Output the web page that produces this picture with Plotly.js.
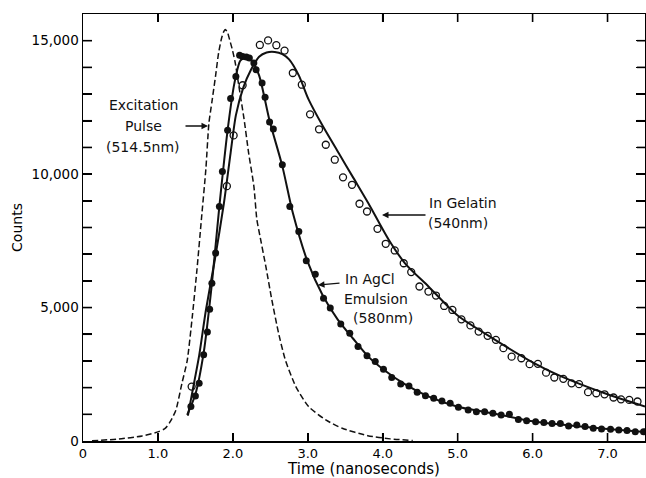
<!DOCTYPE html>
<html>
<head>
<meta charset="utf-8">
<script src="https://cdn.plot.ly/plotly-3.0.1.min.js"></script>
<style>html,body{margin:0;padding:0;background:#fff;}#chart{width:646px;height:478px;}</style>
</head>
<body>
<div id="chart"></div>
<script>
// Excitation pulse (514.5 nm), dashed curve
const pulseTime = [0.12, 0.48, 0.79, 1.01, 1.10, 1.17, 1.24, 1.32, 1.39, 1.46, 1.52, 1.58, 1.64, 1.68, 1.72, 1.77, 1.81, 1.85, 1.88, 1.90, 1.93, 1.96, 1.99, 2.03, 2.08, 2.15, 2.21, 2.28, 2.32, 2.36, 2.44, 2.52, 2.61, 2.70, 2.84, 3.01, 3.24, 3.46, 3.80, 4.10, 4.40];
const pulseCounts = [10, 75, 190, 350, 480, 750, 1160, 2160, 3000, 4700, 6400, 8300, 10200, 11900, 12700, 13700, 14550, 15100, 15350, 15420, 15300, 15000, 14700, 14200, 13300, 12050, 10800, 9550, 8300, 7700, 6540, 5290, 4040, 3040, 2040, 1290, 790, 475, 200, 80, 20];

// In AgCl emulsion (580 nm): measured points (filled circles)
const agclTime = [1.44, 1.50, 1.55, 1.61, 1.66, 1.69, 1.72, 1.77, 1.82, 1.86, 1.93, 1.97, 2.04, 2.09, 2.13, 2.18, 2.22, 2.28, 2.31, 2.39, 2.43, 2.49, 2.54, 2.66, 2.76, 2.88, 2.98, 3.10, 3.21, 3.30, 3.44, 3.56, 3.67, 3.79, 3.90, 4.01, 4.12, 4.24, 4.35, 4.46, 4.57, 4.68, 4.79, 4.90, 5.01, 5.14, 5.25, 5.36, 5.47, 5.58, 5.69, 5.81, 5.92, 6.04, 6.15, 6.26, 6.37, 6.48, 6.59, 6.70, 6.81, 6.92, 7.04, 7.15, 7.26, 7.37, 7.48];
const agclCounts = [1290, 1690, 2160, 3230, 4080, 4940, 5910, 7040, 8790, 10100, 11640, 12830, 13660, 14450, 14410, 14390, 14350, 14160, 13910, 13410, 12880, 11950, 11690, 10350, 8790, 7850, 6750, 6250, 5350, 4980, 4380, 4040, 3540, 3190, 2980, 2690, 2380, 2140, 2060, 1830, 1700, 1600, 1500, 1410, 1260, 1160, 1100, 1100, 1040, 975, 1000, 810, 760, 725, 690, 660, 660, 560, 600, 540, 475, 450, 440, 410, 390, 350, 350];
// AgCl fitted curve (solid)
const agclFitTime = [1.39, 1.50, 1.61, 1.72, 1.82, 1.93, 2.02, 2.10, 2.18, 2.25, 2.35, 2.49, 2.66, 2.80, 3.00, 3.20, 3.40, 3.60, 3.80, 4.00, 4.30, 4.60, 5.00, 5.50, 6.00, 6.50, 7.00, 7.50];
const agclFitCounts = [975, 1750, 3300, 5900, 8800, 11650, 13400, 14250, 14380, 14250, 13700, 12000, 10300, 8550, 6700, 5450, 4550, 3850, 3180, 2700, 2120, 1680, 1280, 1020, 740, 580, 450, 340];

// In gelatin (540 nm): measured points (open circles)
const gelTime = [1.45, 1.92, 2.01, 2.13, 2.36, 2.47, 2.58, 2.69, 2.80, 2.92, 3.03, 3.15, 3.24, 3.36, 3.47, 3.59, 3.69, 3.79, 3.93, 4.04, 4.16, 4.28, 4.38, 4.49, 4.61, 4.71, 4.82, 4.93, 5.05, 5.17, 5.28, 5.40, 5.51, 5.61, 5.72, 5.85, 5.96, 6.07, 6.18, 6.29, 6.41, 6.52, 6.62, 6.74, 6.85, 6.96, 7.08, 7.18, 7.29, 7.40];
const gelCounts = [2040, 9550, 11450, 13330, 14840, 15010, 14830, 14630, 13790, 13350, 12240, 11680, 11100, 10540, 9880, 9600, 8890, 8600, 7950, 7390, 7140, 6660, 6330, 5790, 5600, 5450, 5060, 4910, 4560, 4330, 4100, 3940, 3790, 3480, 3160, 3100, 2880, 2890, 2560, 2380, 2330, 2160, 2130, 1830, 1790, 1750, 1630, 1560, 1540, 1480];
// Gelatin fitted curve (solid)
const gelFitTime = [1.40, 1.47, 1.55, 1.64, 1.76, 1.88, 1.97, 2.04, 2.14, 2.24, 2.35, 2.45, 2.56, 2.66, 2.75, 2.88, 3.01, 3.20, 3.41, 3.61, 3.81, 4.08, 4.30, 4.61, 5.00, 5.50, 6.00, 6.39, 7.00, 7.50];
const gelFitCounts = [950, 2000, 3200, 4900, 6800, 8900, 10800, 12200, 13250, 13900, 14400, 14560, 14580, 14500, 14300, 13700, 12800, 11800, 10800, 9850, 8900, 7540, 6650, 5790, 4700, 3790, 2950, 2410, 1750, 1290];

// Axis tick labels (ticks every 1,000 counts, labelled every 5,000)
const xTickVals = [0, 1, 2, 3, 4, 5, 6, 7];
const xTickText = ['0', '1.0', '2.0', '3.0', '4.0', '5.0', '6.0', '7.0'];
const yTickVals = [0, 1000, 2000, 3000, 4000, 5000, 6000, 7000, 8000, 9000, 10000, 11000, 12000, 13000, 14000, 15000];
const yTickText = ['0', '', '', '', '', '5,000', '', '', '', '', '10,000', '', '', '', '', '15,000'];

const X_RANGE = [0, 7.5];
const Y_RANGE = [0, 16000];
const FONT = 'DejaVu Sans, Liberation Sans, sans-serif';

// Inward tick marks on all four sides, built from the tick values (length in axis units)
const xTickLen = 8 * (Y_RANGE[1] - Y_RANGE[0]) / 427;
const yTickLen = 9 * (X_RANGE[1] - X_RANGE[0]) / 562;
const tickMarkX = [], tickMarkY = [];
xTickVals.slice(1).forEach(v => {
  tickMarkX.push(v, v, null, v, v, null);
  tickMarkY.push(Y_RANGE[0], Y_RANGE[0] + xTickLen, null, Y_RANGE[1], Y_RANGE[1] - xTickLen, null);
});
yTickVals.slice(1).forEach(v => {
  tickMarkX.push(X_RANGE[0], X_RANGE[0] + yTickLen, null, X_RANGE[1], X_RANGE[1] - yTickLen * 0.9, null);
  tickMarkY.push(v, v, null, v, v, null);
});

const traces = [
  {x: tickMarkX, y: tickMarkY, mode: 'lines', connectgaps: false, line: {color: 'black', width: 1.6}, hoverinfo: 'skip'},
  {x: pulseTime, y: pulseCounts, mode: 'lines', line: {color: '#111', width: 1.5, dash: '6px,3px', shape: 'spline', smoothing: 0.6}},
  {x: gelFitTime, y: gelFitCounts, mode: 'lines', line: {color: '#111', width: 2, shape: 'spline', smoothing: 0.7}},
  {x: agclFitTime, y: agclFitCounts, mode: 'lines', line: {color: '#111', width: 2, shape: 'spline', smoothing: 0.7}},
  {x: agclTime, y: agclCounts, mode: 'markers', marker: {symbol: 'circle', size: 7, color: '#111'}},
  {x: gelTime, y: gelCounts, mode: 'markers', marker: {symbol: 'circle-open', size: 7, color: '#111', line: {width: 1.3, color: '#111'}}}
];

function txt(text, x, y, xanchor) {
  return {text: text, x: x, y: y, xref: 'paper', yref: 'paper', xanchor: xanchor || 'center', yanchor: 'middle', showarrow: false, font: {family: FONT, size: 14, color: '#111'}};
}
// convert pixel in 646x478 frame to paper coords (plot area 83..645 x 14..441)
function px(x) { return (x - 83) / 562; }
function py(y) { return (441 - y) / 427; }

const annotations = [
  txt('Excitation', px(143), py(105)),
  txt('Pulse', px(143), py(126)),
  txt('(514.5nm)', px(143), py(147)),
  txt('In Gelatin', px(427), py(203), 'left'),
  txt('(540nm)', px(426), py(223), 'left'),
  txt('In AgCl', px(343), py(279), 'left'),
  txt('Emulsion', px(342), py(299), 'left'),
  txt('(580nm)', px(351), py(318), 'left'),
  {x: px(208), y: py(126), xref: 'paper', yref: 'paper', text: '', showarrow: true, ax: -24, ay: 0, arrowhead: 2, arrowsize: 1, arrowwidth: 1.3, arrowcolor: '#111'},
  {x: px(382), y: py(215), xref: 'paper', yref: 'paper', text: '', showarrow: true, ax: 45, ay: 0, arrowhead: 2, arrowsize: 1, arrowwidth: 1.3, arrowcolor: '#111'},
  {x: px(318), y: py(285), xref: 'paper', yref: 'paper', text: '', showarrow: true, ax: 23, ay: -2, arrowhead: 2, arrowsize: 1, arrowwidth: 1.3, arrowcolor: '#111'}
];

const layout = {
  width: 646, height: 478,
  margin: {l: 83, r: 1, t: 14, b: 37},
  paper_bgcolor: '#fff', plot_bgcolor: '#fff',
  showlegend: false,
  font: {family: FONT, color: 'black'},
  xaxis: {
    range: X_RANGE, tickmode: 'array', tickvals: xTickVals, ticktext: xTickText,
    ticks: 'inside', ticklen: 8, tickwidth: 1.6, tickcolor: 'black',
    showline: true, linewidth: 1.5, linecolor: 'black', mirror: 'ticks',
    showgrid: false, zeroline: false,
    tickfont: {family: FONT, size: 13, color: 'black'},
    title: {text: 'Time (nanoseconds)', font: {family: FONT, size: 15, color: 'black'}, standoff: 2}
  },
  yaxis: {
    range: Y_RANGE, tickmode: 'array', tickvals: yTickVals, ticktext: yTickText,
    ticks: 'inside', ticklen: 9, tickwidth: 1.6, tickcolor: 'black',
    showline: true, linewidth: 1.5, linecolor: 'black', mirror: 'ticks',
    showgrid: false, zeroline: false,
    tickfont: {family: FONT, size: 13.5, color: 'black'},
    title: {text: 'Counts', font: {family: FONT, size: 14, color: 'black'}, standoff: 5}
  },
  annotations: annotations
};

Plotly.newPlot('chart', traces, layout, {displayModeBar: false, staticPlot: true});
</script>
</body>
</html>
